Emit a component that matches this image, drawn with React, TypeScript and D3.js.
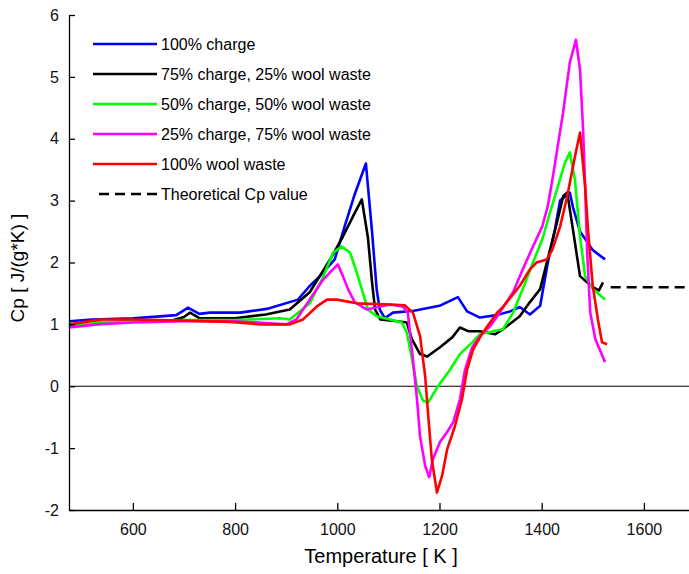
import React, { useRef, useEffect } from 'react';
import * as d3 from 'd3';

// series (temperature in K, Cp in J/(g*K))
const blueT = [475, 520, 600, 653, 685, 708, 730, 751, 810, 862, 923, 946, 966, 995, 1015, 1034, 1056, 1068, 1077, 1083, 1093, 1109, 1150, 1200, 1236, 1254, 1279, 1312, 1338, 1357, 1377, 1397, 1412, 1426, 1436, 1455, 1461, 1475, 1500, 1524];
const blueCp = [1.05, 1.08, 1.1, 1.13, 1.15, 1.27, 1.17, 1.19, 1.19, 1.25, 1.4, 1.62, 1.78, 2.05, 2.6, 3.1, 3.6, 2.5, 1.57, 1.24, 1.1, 1.19, 1.22, 1.3, 1.44, 1.21, 1.11, 1.15, 1.21, 1.28, 1.16, 1.3, 2.0, 2.54, 3.0, 3.13, 2.9, 2.5, 2.2, 2.05];

const blackT = [475, 530, 600, 680, 700, 712, 730, 800, 860, 907, 946, 986, 1011, 1031, 1048, 1060, 1068, 1074, 1084, 1117, 1136, 1146, 1162, 1176, 1201, 1225, 1240, 1256, 1279, 1309, 1324, 1357, 1377, 1397, 1410, 1430, 1442, 1450, 1461, 1475, 1500, 1512, 1520];
const blackCp = [0.98, 1.03, 1.05, 1.07, 1.12, 1.19, 1.1, 1.1, 1.16, 1.24, 1.52, 2.05, 2.42, 2.75, 3.02, 2.4, 1.68, 1.24, 1.08, 1.05, 1.03, 0.76, 0.52, 0.48, 0.63, 0.79, 0.95, 0.89, 0.89, 0.84, 0.92, 1.13, 1.36, 1.57, 2.0, 2.65, 3.07, 3.13, 2.54, 1.78, 1.6, 1.55, 1.68];

const greenT = [475, 530, 600, 700, 800, 888, 907, 946, 972, 992, 1009, 1025, 1038, 1048, 1060, 1077, 1103, 1126, 1136, 1146, 1156, 1168, 1178, 1197, 1221, 1240, 1264, 1279, 1305, 1324, 1344, 1363, 1383, 1401, 1416, 1430, 1445, 1455, 1465, 1475, 1485, 1500, 1524];
const greenCp = [0.98, 1.03, 1.05, 1.07, 1.07, 1.1, 1.08, 1.34, 1.76, 2.16, 2.26, 2.16, 1.84, 1.57, 1.24, 1.13, 1.08, 1.03, 0.87, 0.44, 0.0, -0.24, -0.26, 0.0, 0.27, 0.52, 0.71, 0.84, 0.89, 0.92, 1.19, 1.57, 2.0, 2.37, 2.8, 3.18, 3.6, 3.78, 3.34, 2.42, 1.78, 1.57, 1.4];

const magentaT = [475, 530, 600, 700, 800, 860, 900, 920, 946, 972, 1001, 1011, 1021, 1034, 1058, 1080, 1103, 1128, 1138, 1148, 1156, 1162, 1172, 1180, 1187, 1201, 1215, 1227, 1240, 1250, 1264, 1279, 1299, 1313, 1344, 1363, 1383, 1401, 1412, 1421, 1442, 1455, 1467, 1475, 1481, 1485, 1489, 1495, 1505, 1524];
const magentaCp = [0.95, 1.0, 1.03, 1.05, 1.05, 1.02, 1.0, 1.08, 1.4, 1.72, 1.97, 1.78, 1.57, 1.36, 1.24, 1.28, 1.32, 1.29, 1.19, 0.44, -0.21, -0.81, -1.29, -1.47, -1.18, -0.9, -0.74, -0.58, -0.21, 0.27, 0.63, 0.81, 0.97, 1.13, 1.52, 1.89, 2.26, 2.58, 2.91, 3.34, 4.43, 5.23, 5.6, 5.12, 4.15, 3.23, 2.16, 1.19, 0.76, 0.39];

const redT = [475, 536, 600, 700, 790, 849, 907, 933, 960, 980, 999, 1038, 1103, 1132, 1148, 1162, 1172, 1178, 1185, 1195, 1205, 1215, 1230, 1244, 1254, 1266, 1285, 1313, 1324, 1357, 1377, 1390, 1410, 1421, 1436, 1450, 1465, 1475, 1485, 1491, 1500, 1510, 1518, 1528];
const redCp = [1.0, 1.08, 1.08, 1.06, 1.04, 1.0, 1.0, 1.08, 1.29, 1.4, 1.4, 1.34, 1.32, 1.31, 1.19, 0.81, 0.16, -0.48, -1.18, -1.72, -1.45, -1.02, -0.65, -0.21, 0.27, 0.6, 0.87, 1.19, 1.28, 1.62, 1.89, 2.0, 2.05, 2.21, 2.58, 3.07, 3.71, 4.1, 3.23, 2.49, 1.62, 1.08, 0.71, 0.68];

// theoretical Cp value
const theoT = [1535, 1700];
const theoCp = [1.6, 1.6];

const xTicks = [600, 800, 1000, 1200, 1400, 1600];
const yTicks = [-2, -1, 0, 1, 2, 3, 4, 5, 6];

const seriesNames = ['100% charge', '75% charge, 25% wool waste', '50% charge, 50% wool waste', '25% charge, 75% wool waste', '100% wool waste', 'Theoretical Cp value'];
const seriesColors = ['#0000ff', '#000000', '#00ff00', '#ff00ff', '#ff0000', '#000000'];

function App() {
  const ref = useRef<SVGSVGElement>(null);
  const width = 689;
  const height = 574;
  const font = '"Liberation Sans", Arial, sans-serif';

  useEffect(() => {
    const svg = d3.select(ref.current);
    svg.selectAll('*').remove();

    const x = d3.scaleLinear().domain([475, 1700]).range([69, 695]);
    const y = d3.scaleLinear().domain([-2, 6]).range([510, 15]);

    const allSeries = [
      { t: blueT, cp: blueCp },
      { t: blackT, cp: blackCp },
      { t: greenT, cp: greenCp },
      { t: magentaT, cp: magentaCp },
      { t: redT, cp: redCp },
      { t: theoT, cp: theoCp },
    ];

    // zero line
    svg.append('line')
      .attr('x1', x(475)).attr('x2', width)
      .attr('y1', y(0)).attr('y2', y(0))
      .attr('stroke', 'black').attr('stroke-width', 1.2);

    allSeries.forEach((s, i) => {
      const pts: [number, number][] = s.t.map((t, k) => [x(t), y(s.cp[k])]);
      svg.append('path')
        .attr('d', d3.line()(pts))
        .attr('fill', 'none')
        .attr('stroke', seriesColors[i])
        .attr('stroke-width', 2.6)
        .attr('stroke-linejoin', 'round')
        .attr('stroke-dasharray', i === 5 ? '10,6' : null);
    });

    // axes, ticks pointing inwards like matlab
    const xAxis = svg.append('g')
      .attr('transform', `translate(0,${y(-2)})`)
      .call(d3.axisBottom(x).tickValues(xTicks).tickSizeInner(-7).tickSizeOuter(0).tickPadding(14).tickFormat(d => String(d)));
    const yAxis = svg.append('g')
      .attr('transform', `translate(${x(475)},0)`)
      .call(d3.axisLeft(y).tickValues(yTicks).tickSizeInner(-6).tickSizeOuter(0).tickPadding(10).tickFormat(d => String(d)));
    [xAxis, yAxis].forEach(g => {
      g.select('.domain').attr('stroke-width', 1.3);
      g.selectAll('line').attr('stroke-width', 1.3);
      g.selectAll('text').attr('font-family', font).attr('font-size', 16).attr('fill', '#111');
    });

    svg.append('text')
      .attr('x', 381).attr('y', 563)
      .attr('text-anchor', 'middle')
      .attr('font-family', font).attr('font-size', 20)
      .text('Temperature [ K ]');

    svg.append('text')
      .attr('transform', 'translate(24,268) rotate(-90)')
      .attr('text-anchor', 'middle')
      .attr('font-family', font).attr('font-size', 19)
      .text('Cp [ J/(g*K) ]');

    // legend
    const legend = svg.append('g');
    seriesNames.forEach((name, i) => {
      const ly = 44 + i * 30;
      legend.append('line')
        .attr('x1', i === 5 ? 99 : 93).attr('x2', 157)
        .attr('y1', ly).attr('y2', ly)
        .attr('stroke', seriesColors[i])
        .attr('stroke-width', 2.6)
        .attr('stroke-dasharray', i === 5 ? '10,6' : null);
      legend.append('text')
        .attr('x', 161).attr('y', ly + 6)
        .attr('font-family', font).attr('font-size', 16)
        .text(name);
    });
  }, []);

  return (
    <svg ref={ref} width={width} height={height}
      style={{ position: 'absolute', left: 0, top: 0, background: 'white' }} />
  );
}

export default App;
